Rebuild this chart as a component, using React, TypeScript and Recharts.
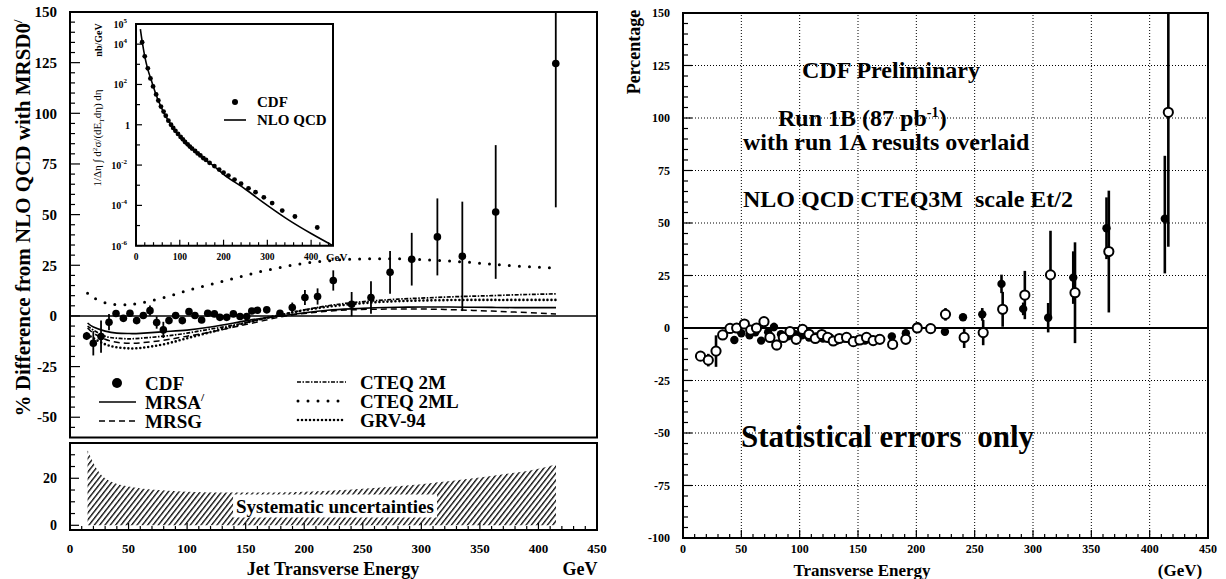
import { ComposedChart, Line, Scatter, ErrorBar, Area, XAxis, YAxis, ReferenceLine, ReferenceArea } from 'recharts'

const serif = '"Liberation Serif", "Times New Roman", Times, serif'

// ---- left panel: CDF data, % difference from NLO QCD (MRSD0')
const cdfEt = [14.2, 19.9, 26.5, 33.3, 39.3, 45.6, 51.2, 56.9, 62.6, 68.3, 74, 79.7, 84.5, 90.2, 95.9, 101.6, 106.7, 112.4, 117.6, 123.3, 128, 133.8, 139.5, 145.2, 150.9, 155.2, 160, 168, 179.3, 189.8, 200.6, 211.4, 224.8, 240.5, 257, 273.3, 291.8, 313.7, 335, 363.5, 414.8]
const cdfDiff = [-9.9, -13.5, -10.2, -3.1, 1.2, -1.2, 1.3, -2.3, 0.2, 2.6, -3.3, -6.9, -2.3, 0.2, -2.3, 2.1, 0.2, -2, 1.3, 1, -0.7, -0.7, 1, -0.3, -0.3, 2.4, 2.8, 3, 1.3, 4.1, 9.1, 9.6, 17.5, 5.8, 9.1, 21.5, 28, 39, 29.4, 51.3, 124.6]
const cdfErr: (number | number[])[] = [2, 6, 8, 4, 1.5, 1.5, 1.5, 1.5, 1.5, 2.5, 3, 4, 1.5, 1.5, 1.5, 1.5, 1.5, 1.5, 1.5, 1.5, 1.5, 1.5, 1.5, 1.5, 1.5, 1.5, 1.5, 1.5, 1.5, 2.5, 3.7, 4, 5, 6, 8, 10.5, 13, 19, 27, 33, [71, 25.4]]

// theory curves relative to MRSD0'
const curveEt = [15, 20, 30, 40, 50, 60, 80, 100, 120, 140, 160, 180, 200, 220, 240, 260, 280, 300, 320, 340, 360, 380, 400, 415]
const mrsa = [-3.5, -5.5, -7.5, -8.5, -8.7, -8.6, -7.8, -7, -5.5, -3.5, -1.5, 0, 1.5, 2.8, 3.5, 4, 4.3, 4.4, 4.4, 4.3, 4.2, 4.1, 4.1, 4.1]
const mrsg = [-6, -8.5, -11.5, -13, -13.5, -13.3, -12, -10, -8, -5.5, -3, -0.5, 1.2, 2.3, 3, 3.3, 3.4, 3.4, 3.2, 2.8, 2.4, 1.9, 1.4, 1]
const cteq2m = [-5, -7, -10, -11, -11.3, -11, -10, -8.5, -6.5, -4.5, -2, 0.5, 3, 5, 6.5, 7.5, 8.3, 8.8, 9.3, 9.7, 10, 10.4, 10.7, 10.9]
const cteq2ml = [11.2, 9, 6.5, 5.6, 5.6, 6.3, 9, 12.5, 15.5, 18.5, 21.5, 24, 26, 27.2, 28, 28.2, 28.2, 27.8, 27.2, 26.5, 25.5, 24.7, 24, 23.6]
const grv94 = [-9, -11, -14, -15.5, -16, -15.8, -14, -11, -8, -5, -2, 0.5, 2.8, 4.5, 5.8, 6.7, 7.3, 7.6, 7.8, 7.9, 7.9, 7.9, 7.9, 7.9]

// systematic uncertainty band (%)
const systEt = [15, 20, 25, 30, 37, 50, 75, 100, 125, 150, 175, 200, 225, 250, 275, 300, 325, 350, 375, 400, 415]
const systUnc = [32, 26.5, 22.5, 20, 18.2, 16.5, 15, 14.3, 14, 13.9, 13.9, 14.3, 14.8, 15.5, 16.4, 17.5, 18.8, 20.3, 22, 24, 26]

// inset: cross section (nb/GeV)
const insetEt = [14, 20, 27, 33, 39, 46, 51, 57, 63, 68, 74, 80, 85, 90, 96, 102, 107, 112, 118, 123, 128, 135, 141, 147, 154, 160, 168, 179, 190, 200, 211, 225, 240, 257, 273, 292, 311, 334, 363, 414]
const insetXs = [1.26e4, 2.5e3, 630, 200, 80, 32, 16, 8, 4.5, 2.8, 1.6, 1.0, 0.7, 0.5, 0.35, 0.25, 0.19, 0.14, 0.107, 0.083, 0.066, 0.05, 0.038, 0.03, 0.022, 0.018, 0.013, 0.0089, 0.006, 0.0042, 0.003, 0.0019, 0.0012, 7e-4, 4.5e-4, 2.5e-4, 1.3e-4, 5.5e-5, 2.8e-5, 8e-6]
const nloEt = [10, 14, 20, 27, 35, 45, 55, 65, 80, 100, 125, 150, 175, 200, 250, 300, 350, 400, 450]
const nloXs = [5.6e4, 1.4e4, 2.5e3, 560, 160, 35, 10, 3.5, 1.0, 0.26, 0.076, 0.025, 0.01, 0.0035, 6.3e-4, 1e-4, 1.8e-5, 4e-6, 1e-6]

// ---- right panel: Run 1B (filled) and Run 1A (open)
const run1bEt = [44, 50, 57, 62, 67, 73, 78, 84, 90, 96, 102, 108, 114, 120, 126, 132, 138, 144, 150, 156, 162, 168, 179, 191, 201, 211.5, 224.5, 240, 256.5, 273, 291.6, 313, 334.5, 363, 413]
const run1bPct = [-5.7, -2.5, -3.5, -2, -6, -2, 0.5, -3, -4, -3, -3.5, -4.5, -4, -5, -4.5, -6, -5, -6, -5.5, -6, -5.5, -5, -4, -2.5, 0.8, 0, -1.8, 5.1, 6.5, 21, 9.1, 4.9, 24, 47.5, 52]
const run1bErr: (number | number[])[] = [1, 1, 1, 1, 1, 1, 2, 1, 1, 1, 1, 1, 1, 1, 1, 1, 1, 1, 1, 1, 1, 1, 1, 1, 1.5, 2, 1.5, 1.5, 3, 4.4, 3, 7, 12.5, 14.7, [26, 30]]
const run1aEt = [15, 21.7, 28.3, 34, 40.3, 46, 52.6, 58, 63, 69.4, 74.5, 80.3, 86, 91.7, 97, 102.5, 108, 113.4, 119, 124, 128.8, 134, 140.2, 146, 151.6, 157.3, 163, 168.7, 179.7, 191, 200.8, 212.3, 225, 241, 257.3, 274, 293, 315, 336, 365, 416]
const run1aPct = [-13.4, -15.3, -11, -3.3, -0.2, 0, 1.9, -1, 0, 3, -4.5, -8.1, -4.5, -1.7, -5.4, -0.7, -3, -5, -3.1, -4.5, -6.2, -5, -4.5, -6.5, -5.7, -4.5, -6, -5.4, -7.8, -5.4, 0, -0.3, 6.5, -4.5, -2.2, 8.9, 15.7, 25.3, 16.8, 36.4, 102.7]
const run1aErr: (number | number[])[] = [1, 3, 7.5, 2, 1.5, 1, 1, 1, 1, 1.5, 1.5, 2.5, 1, 1, 1, 1, 1, 1, 1, 1, 1, 1, 1, 1, 1, 1, 1, 1, 2, 2, 2, 2, 3, 5, 6, 8.3, 11.5, 21, 24, 29, [64, 47.3]]

const leftYLabels = [150, 125, 100, 75, 50, 25, 0, -25, -50]
const systYLabels = [20, 0]
const energyLabels = [0, 50, 100, 150, 200, 250, 300, 350, 400, 450]
const insetXLabels = [0, 100, 200, 300, 400]
const insetYLabels = [5, 4, 2, 0, -2, -4, -6]
const rightYLabels = [150, 125, 100, 75, 50, 25, 0, -25, -50, -75, -100]
const rightGridX = [50, 100, 150, 200, 250, 300, 350, 400]
const rightGridY = [125, 100, 75, 50, 25, -25, -50, -75]

const range = (a: number, b: number, s: number) => {
  const out: number[] = []
  for (let v = a; v <= b + 1e-9; v += s) out.push(Math.round(v * 100) / 100)
  return out
}

const curveRows = curveEt.map((et, i) => ({ et, mrsa: mrsa[i], mrsg: mrsg[i], cteq2m: cteq2m[i], cteq2ml: cteq2ml[i], grv94: grv94[i] }))
const cdfRows = cdfEt.map((et, i) => ({ et, v: cdfDiff[i], e: cdfErr[i] }))
const systRows = systEt.map((et, i) => ({ et, u: systUnc[i] }))
const insetRows = insetEt.map((et, i) => ({ et, xs: insetXs[i] }))
const nloRows = nloEt.map((et, i) => ({ et, xs: nloXs[i] }))
const run1bRows = run1bEt.map((et, i) => ({ et, v: run1bPct[i], e: run1bErr[i] }))
const run1aRows = run1aEt.map((et, i) => ({ et, v: run1aPct[i], e: run1aErr[i] }))

const filledDot = (r: number) => (p: any) => <circle cx={p.cx} cy={p.cy} r={r} fill="#000" />
const openDot = (p: any) => <circle cx={p.cx} cy={p.cy} r={4.6} fill="#fff" stroke="#000" strokeWidth={2} />

// tick renderers: ticks inside the frame, labels outside
const yTick = (frameX: number, labels: number[], labelX: number, fs: number, majLen: number, minLen: number) => (p: any) => {
  const v = p.payload.value
  const major = labels.includes(v)
  return (
    <g>
      <line x1={frameX} x2={frameX + (major ? majLen : minLen)} y1={p.y} y2={p.y} stroke="#000" strokeWidth={1.2} />
      {major && (
        <text x={labelX} y={p.y + fs * 0.35} textAnchor="end" fontFamily={serif} fontWeight="bold" fontSize={fs}>{v}</text>
      )}
    </g>
  )
}
const xTick = (frameY: number, labels: number[], labelY: number, fs: number, majLen: number, minLen: number) => (p: any) => {
  const v = p.payload.value
  const major = labels.includes(v)
  return (
    <g>
      <line x1={p.x} x2={p.x} y1={frameY} y2={frameY - (major ? majLen : minLen)} stroke="#000" strokeWidth={1.2} />
      {major && (
        <text x={p.x} y={labelY + fs * 0.35} textAnchor="middle" fontFamily={serif} fontWeight="bold" fontSize={fs}>{v}</text>
      )}
    </g>
  )
}
const logTick = (p: any) => {
  const exp = Math.round(Math.log10(p.payload.value))
  const major = insetYLabels.includes(exp)
  return (
    <g>
      <line x1={136} x2={136 + (major ? 6 : 4)} y1={p.y} y2={p.y} stroke="#000" strokeWidth={1.2} />
      {major && (
        <text x={exp === 0 ? 130 : 127} y={p.y + 4} textAnchor="end" fontFamily={serif} fontWeight="bold" fontSize={10}>
          {exp === 0 ? '1' : '10'}
          {exp !== 0 && <tspan dy={-5} fontSize={7}>{exp}</tspan>}
        </text>
      )}
    </g>
  )
}

function Txt({ x, y, size, children, center = false, rotate = false, weight = 'bold', style = {} }: any) {
  let transform = center ? 'translate(-50%,-50%)' : 'translateY(-50%)'
  if (rotate) transform = 'translate(-50%,-50%) rotate(-90deg)'
  return (
    <div style={{ position: 'absolute', left: x, top: y, fontFamily: serif, fontWeight: weight, fontSize: size, lineHeight: 1, whiteSpace: 'pre', transform, ...style }}>
      {children}
    </div>
  )
}

export default function App() {
  return (
    <div style={{ position: 'absolute', left: 0, top: 0, width: 1226, height: 579, background: '#fff', overflow: 'hidden' }}>
      {/* main left panel */}
      <div style={{ position: 'absolute', left: 0, top: 0 }}>
        <ComposedChart width={610} height={440} margin={{ top: 12, right: 13, bottom: 2.5, left: 0 }}>
          <XAxis type="number" dataKey="et" domain={[0, 450]} hide />
          <YAxis type="number" domain={[-60, 150]} width={70} ticks={range(-55, 150, 5)} interval={0} axisLine={false} tickLine={false} tick={yTick(70, leftYLabels, 57, 15, 10, 5)} />
          <ReferenceLine y={0} stroke="#000" strokeWidth={1.6} />
          <Line data={curveRows} dataKey="mrsa" type="natural" stroke="#000" strokeWidth={1.6} dot={false} isAnimationActive={false} />
          <Line data={curveRows} dataKey="mrsg" type="natural" stroke="#000" strokeWidth={1.5} strokeDasharray="6 4" dot={false} isAnimationActive={false} />
          <Line data={curveRows} dataKey="cteq2m" type="natural" stroke="#000" strokeWidth={1.7} strokeDasharray="4 1.5 1.5 1.5" dot={false} isAnimationActive={false} />
          <Line data={curveRows} dataKey="cteq2ml" type="natural" stroke="#000" strokeWidth={3} strokeDasharray="0 10" strokeLinecap="round" dot={false} isAnimationActive={false} />
          <Line data={curveRows} dataKey="grv94" type="natural" stroke="#000" strokeWidth={2.6} strokeDasharray="0 4" strokeLinecap="round" dot={false} isAnimationActive={false} />
          <Scatter data={cdfRows} dataKey="v" shape={filledDot(3.8)} isAnimationActive={false}>
            <ErrorBar dataKey="e" direction="y" width={0} stroke="#000" strokeWidth={1.8} />
          </Scatter>
          <ReferenceArea x1={0} x2={450} y1={-60} y2={150} fill="none" stroke="#000" strokeWidth={2} ifOverflow="visible" />
        </ComposedChart>
      </div>

      {/* inset */}
      <div style={{ position: 'absolute', left: 0, top: 0 }}>
        <ComposedChart width={345} height={262} margin={{ top: 24, right: 12, bottom: 16.3, left: 0 }}>
          <XAxis type="number" dataKey="et" domain={[0, 450]} ticks={range(0, 440, 20)} interval={0} axisLine={false} tickLine={false} height={0.01} tick={xTick(245.7, insetXLabels, 257, 9.5, 6, 3.5)} />
          <YAxis type="number" scale="log" domain={[1e-6, 1e5]} allowDataOverflow width={136} ticks={[1e-6, 1e-5, 1e-4, 1e-3, 1e-2, 1e-1, 1, 10, 100, 1e3, 1e4, 1e5]} interval={0} axisLine={false} tickLine={false} tick={logTick} />
          <Line data={nloRows} dataKey="xs" type="monotone" stroke="#000" strokeWidth={1.6} dot={false} isAnimationActive={false} />
          <Scatter data={insetRows} dataKey="xs" shape={filledDot(2.4)} isAnimationActive={false} />
          <ReferenceArea x1={0} x2={450} y1={1e-6} y2={1e5} fill="none" stroke="#000" strokeWidth={2} ifOverflow="visible" />
        </ComposedChart>
      </div>

      {/* systematic uncertainty panel */}
      <div style={{ position: 'absolute', left: 0, top: 440 }}>
        <ComposedChart width={610} height={139} data={systRows} margin={{ top: 3, right: 13, bottom: 0, left: 0 }}>
          <defs>
            <pattern id="hatch" patternUnits="userSpaceOnUse" width={4.2} height={4.2} patternTransform="rotate(38)">
              <line x1={0.7} y1={0} x2={0.7} y2={4.2} stroke="#000" strokeWidth={1.3} />
            </pattern>
          </defs>
          <XAxis type="number" dataKey="et" domain={[0, 450]} ticks={range(0, 450, 10)} interval={0} axisLine={false} tickLine={false} height={49} tick={xTick(90, energyLabels, 108, 13, 7, 4)} />
          <YAxis type="number" domain={[-2, 35]} width={70} ticks={range(0, 35, 5)} interval={0} axisLine={false} tickLine={false} tick={yTick(70, systYLabels, 57, 14, 9, 5)} />
          <Area dataKey="u" type="monotone" baseValue={0} fill="url(#hatch)" fillOpacity={1} stroke="none" isAnimationActive={false} />
          <ReferenceArea x1={0} x2={450} y1={-2} y2={35} fill="none" stroke="#000" strokeWidth={2} ifOverflow="visible" />
        </ComposedChart>
      </div>

      {/* right panel */}
      <div style={{ position: 'absolute', left: 610, top: 0 }}>
        <ComposedChart width={616} height={579} margin={{ top: 13, right: 18, bottom: 0, left: 0 }}>
          <XAxis type="number" dataKey="et" domain={[0, 450]} ticks={range(0, 450, 10)} interval={0} axisLine={false} tickLine={false} height={41} tick={xTick(538, energyLabels, 549, 12, 8, 4)} />
          <YAxis type="number" domain={[-100, 150]} width={73} ticks={range(-100, 150, 5)} interval={0} axisLine={false} tickLine={false} tick={yTick(73, rightYLabels, 60, 12, 9, 5)} />
          {rightGridX.map((v) => (
            <ReferenceLine key={'v' + v} x={v} stroke="#000" strokeWidth={1} strokeDasharray="1 2" />
          ))}
          {rightGridY.map((v) => (
            <ReferenceLine key={'h' + v} y={v} stroke="#000" strokeWidth={1} strokeDasharray="1 2" />
          ))}
          <ReferenceLine y={0} stroke="#000" strokeWidth={2} />
          <Scatter data={run1bRows} dataKey="v" shape={filledDot(4.2)} isAnimationActive={false}>
            <ErrorBar dataKey="e" direction="y" width={0} stroke="#000" strokeWidth={2.6} />
          </Scatter>
          <Scatter data={run1aRows} dataKey="v" shape={openDot} isAnimationActive={false}>
            <ErrorBar dataKey="e" direction="y" width={0} stroke="#000" strokeWidth={2.6} />
          </Scatter>
          <ReferenceArea x1={0} x2={450} y1={-100} y2={150} fill="none" stroke="#000" strokeWidth={2} ifOverflow="visible" />
        </ComposedChart>
      </div>

      {/* legend samples */}
      <svg width={610} height={440} style={{ position: 'absolute', left: 0, top: 0, pointerEvents: 'none' }}>
        <circle cx={117} cy={383} r={5} fill="#000" />
        <line x1={99} x2={136} y1={402} y2={402} stroke="#000" strokeWidth={1.6} />
        <line x1={99} x2={136} y1={421} y2={421} stroke="#000" strokeWidth={1.5} strokeDasharray="6 4" />
        <line x1={297} x2={346} y1={382} y2={382} stroke="#000" strokeWidth={1.7} strokeDasharray="4 1.5 1.5 1.5" />
        <line x1={298} x2={346} y1={401} y2={401} stroke="#000" strokeWidth={3} strokeDasharray="0 10" strokeLinecap="round" />
        <line x1={298} x2={346} y1={420} y2={420} stroke="#000" strokeWidth={2.6} strokeDasharray="0 4" strokeLinecap="round" />
        <circle cx={235} cy={102} r={3} fill="#000" />
        <line x1={224} x2={246} y1={120} y2={120} stroke="#000" strokeWidth={1.6} />
      </svg>

      {/* left texts */}
      <Txt x={23} y={218} size={21} rotate>% Difference from NLO QCD with MRSD0<sup style={{ fontSize: '60%' }}>/</sup></Txt>
      <Txt x={145} y={383} size={19}>CDF</Txt>
      <Txt x={145} y={402} size={19}>MRSA<sup style={{ fontSize: '60%' }}>/</sup></Txt>
      <Txt x={145} y={421} size={19}>MRSG</Txt>
      <Txt x={360} y={382} size={19}>CTEQ 2M</Txt>
      <Txt x={360} y={401} size={19}>CTEQ 2ML</Txt>
      <Txt x={360} y={420} size={19}>GRV-94</Txt>
      <Txt x={257} y={102} size={15}>CDF</Txt>
      <Txt x={257} y={120} size={15}>NLO QCD</Txt>
      <Txt x={326} y={257} size={11}>GeV</Txt>
      <Txt x={99} y={40} size={10} rotate>nb/GeV</Txt>
      <Txt x={99} y={138} size={11} rotate weight="normal">1/Δη ∫ d<sup style={{ fontSize: '65%' }}>2</sup>σ/(dE<sub style={{ fontSize: '65%' }}>T</sub>dη) dη</Txt>
      <Txt x={335} y={506} size={19} center style={{ background: '#fff', padding: '2px 3px' }}>Systematic uncertainties</Txt>
      <Txt x={333} y={569} size={18} center>Jet Transverse Energy</Txt>
      <Txt x={580} y={569} size={18} center>GeV</Txt>

      {/* right texts */}
      <Txt x={634} y={52} size={18} rotate>Percentage</Txt>
      <Txt x={802} y={70} size={24}>CDF Preliminary</Txt>
      <Txt x={778} y={117} size={24}>Run 1B (87 pb<sup style={{ fontSize: '60%' }}>-1</sup>)</Txt>
      <Txt x={743} y={142} size={24}>with run 1A results overlaid</Txt>
      <Txt x={743} y={199} size={24}>NLO QCD CTEQ3M  scale Et/2</Txt>
      <Txt x={741} y={436} size={31}>Statistical errors  only</Txt>
      <Txt x={862} y={570} size={17} center>Transverse Energy</Txt>
      <Txt x={1180} y={570} size={17} center>(GeV)</Txt>
    </div>
  )
}
